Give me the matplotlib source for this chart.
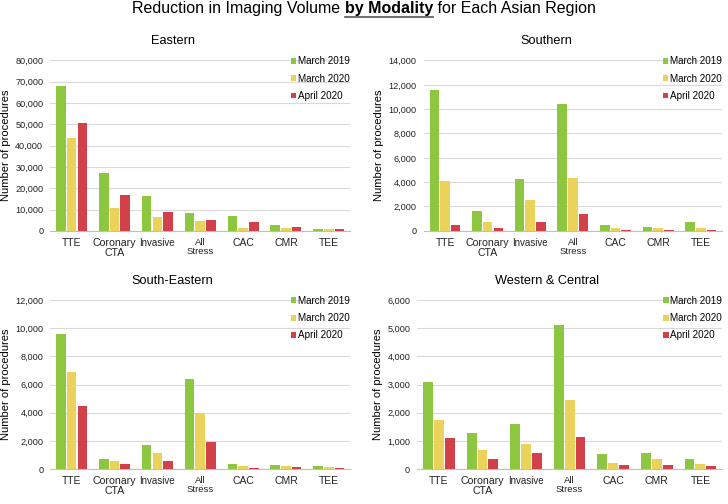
import numpy as np
import matplotlib.pyplot as plt

plt.rcParams['font.family'] = ['Liberation Sans', 'DejaVu Sans']

categories = ['TTE', 'Coronary\nCTA', 'Invasive', 'All\nStress', 'CAC', 'CMR', 'TEE']
series_names = ['March 2019', 'March 2020', 'April 2020']
colors = ['#8dc63f', '#ebd35b', '#d2404a']

eastern = [[68200, 27200, 16500, 8400, 7100, 2600, 900],
           [43800, 10700, 6300, 4700, 1500, 1200, 900],
           [50500, 16900, 9000, 5000, 4300, 1900, 900]]
southern = [[11600, 1600, 4300, 10400, 500, 330, 750],
            [4100, 700, 2550, 4350, 250, 200, 260],
            [500, 200, 750, 1350, 80, 80, 80]]
south_eastern = [[9550, 750, 1700, 6380, 350, 300, 200],
                 [6900, 550, 1150, 4000, 250, 250, 130],
                 [4450, 350, 550, 1950, 100, 150, 100]]
western = [[3080, 1270, 1590, 5100, 530, 590, 350],
           [1740, 690, 900, 2460, 210, 350, 170],
           [1100, 360, 560, 1150, 150, 160, 100]]

# name, data, ymax, step, axes rect, title position
panels = [('Eastern', eastern, 80000, 10000, [0.069, 0.542, 0.412, 0.338], (0.237, 0.919)),
          ('Southern', southern, 14000, 2000, [0.582, 0.542, 0.410, 0.338], (0.751, 0.919)),
          ('South-Eastern', south_eastern, 12000, 2000, [0.069, 0.069, 0.412, 0.336], (0.237, 0.442)),
          ('Western & Central', western, 6000, 1000, [0.573, 0.069, 0.419, 0.336], (0.751, 0.442))]

label_sizes = {'Coronary\nCTA': 7.6, 'Invasive': 7.0, 'All\nStress': 6.8}

fig = plt.figure(figsize=(7.28, 5.04), dpi=100)

x = np.arange(len(categories))
w = 0.225
gap = 0.025

for title, data, ymax, step, pos, tpos in panels:
    ax = fig.add_axes(pos)
    for i in range(3):
        ax.bar(x + (i - 1) * (w + gap), data[i], width=w, color=colors[i],
               label=series_names[i], zorder=3)
    ax.set_xlim(-0.5, len(categories) - 0.5)
    ax.set_ylim(0, ymax)
    ax.set_yticks(np.arange(0, ymax + 1, step))
    ax.yaxis.set_major_formatter(plt.FuncFormatter(lambda v, p: '{:,.0f}'.format(v)))
    ax.grid(axis='y', color='#d9d9d9', linewidth=0.8, zorder=0)
    for s in ['top', 'right', 'left']:
        ax.spines[s].set_visible(False)
    ax.spines['bottom'].set_color('#bfbfbf')
    ax.tick_params(axis='both', length=0, labelsize=6.6, colors='#222222')
    ax.tick_params(axis='y', pad=5)
    ax.set_xticks(x)
    ax.set_xticklabels(categories)
    for lbl in ax.get_xticklabels():
        lbl.set_fontsize(label_sizes.get(lbl.get_text(), 7.5))
        lbl.set_linespacing(1.0)
    ax.tick_params(axis='x', pad=5)
    ax.set_ylabel('Number of procedures', fontsize=8, labelpad=3)
    fig.text(tpos[0], tpos[1], title, fontsize=9.2, ha='center', va='center')
    ax.legend(loc='upper right', bbox_to_anchor=(1.02, 1.06), frameon=False, fontsize=7.1,
              handlelength=0.55, handleheight=0.55, handletextpad=0.2, labelspacing=0.75,
              borderaxespad=0.2)

# title with bold underlined part
parts = [('Reduction in Imaging Volume ', 'normal'), ('by Modality', 'bold'),
         (' for Each Asian Region', 'normal')]
texts = []
fig.canvas.draw()
r = fig.canvas.get_renderer()
xpos = 0
for s, wt in parts:
    t = fig.text(xpos, 0.983, s, fontsize=11.5, fontweight=wt, ha='left', va='center')
    bb = t.get_window_extent(renderer=r)
    xpos += bb.width / fig.bbox.width
    texts.append(t)
total = xpos
shift = 0.5 - total / 2
for t in texts:
    t.set_x(t.get_position()[0] + shift)
fig.canvas.draw()
bb = texts[1].get_window_extent(renderer=r)
x0 = bb.x0 / fig.bbox.width
x1 = bb.x1 / fig.bbox.width
yline = (bb.y0 - 1) / fig.bbox.height
fig.add_artist(plt.Line2D([x0, x1], [yline, yline], color='#555555', linewidth=1.2))

fig.savefig('out.png', dpi=100)
